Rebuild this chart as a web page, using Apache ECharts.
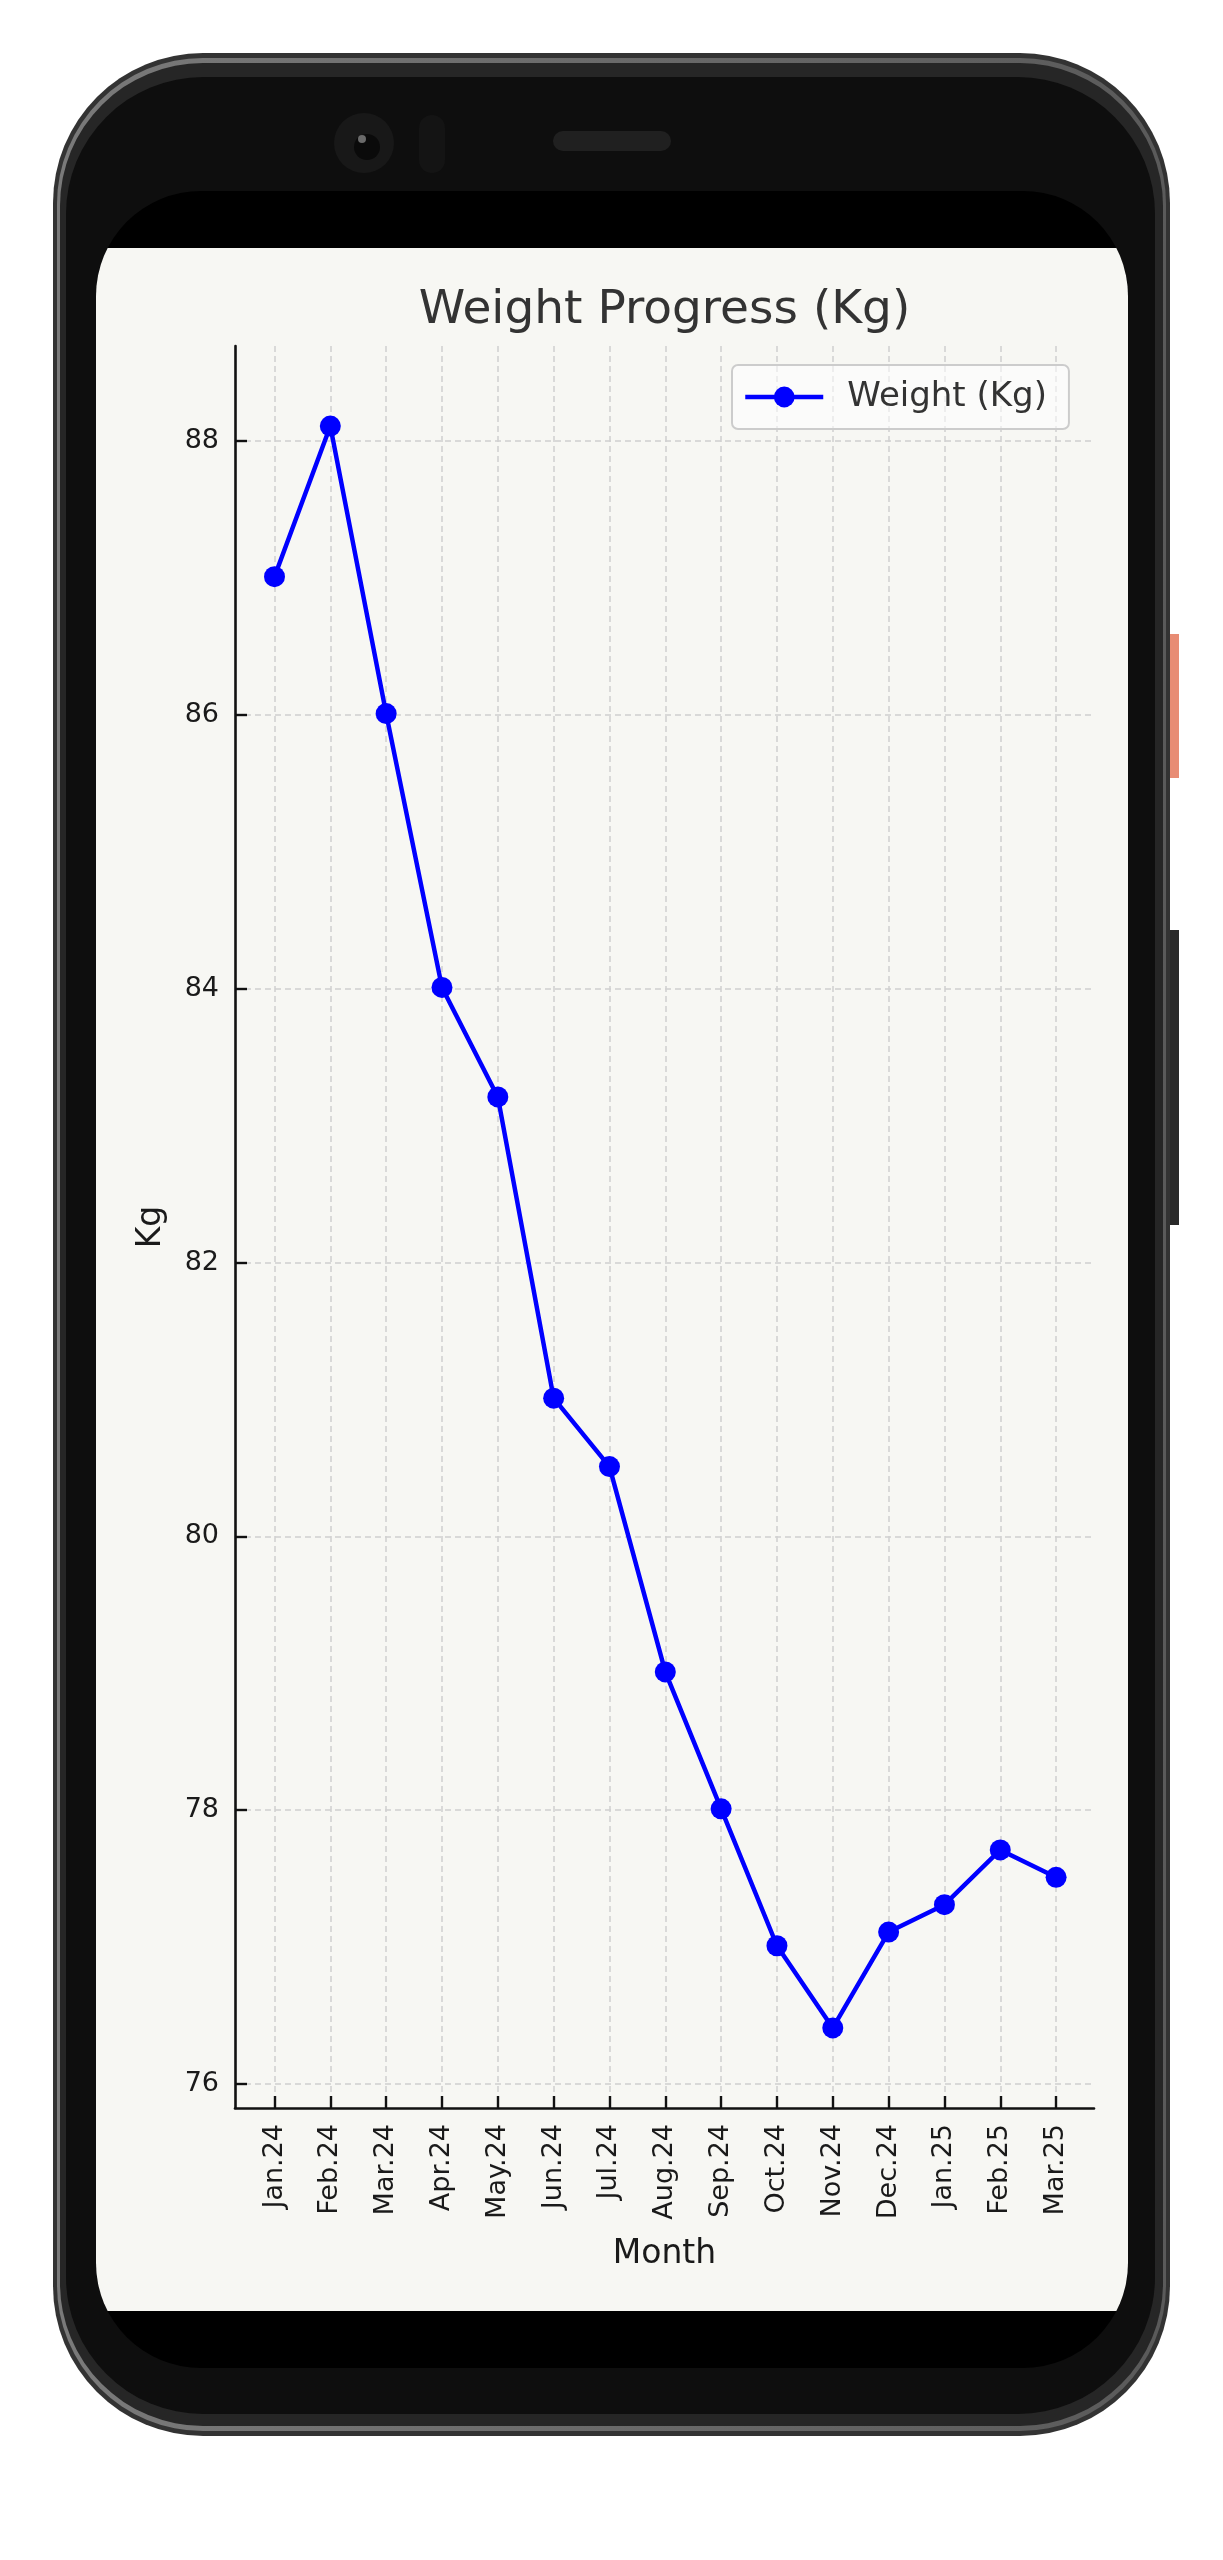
<!doctype html>
<html>
<head>
<meta charset="utf-8" />
<title>Weight Progress</title>
<script src="https://cdn.jsdelivr.net/npm/echarts@6/dist/echarts.min.js"></script>
<style>
  html, body { margin: 0; padding: 0; background: #fff; }
  #page { position: relative; width: 1223px; height: 2560px; overflow: hidden; }
  .abs { position: absolute; }
  #main { position: absolute; left: 0; top: 0; width: 1223px; height: 2560px; z-index: 10; }
</style>
</head>
<body>
<div id="page">
  <!-- side buttons -->
  <div class="abs" style="left:1160px;top:634px;width:19px;height:144px;background:#e88c74;"></div>
  <div class="abs" style="left:1160px;top:930px;width:19px;height:295px;background:#2a2a2a;"></div>
  <!-- phone body -->
  <div class="abs" style="left:53px;top:53px;width:1117px;height:2383px;border-radius:150px;background:#333;"></div>
  <div class="abs" style="left:57px;top:58px;width:1109px;height:2373px;border-radius:146px;background:linear-gradient(90deg,#7a7a7a,#5a5a5a);"></div>
  <div class="abs" style="left:60px;top:63px;width:1103px;height:2363px;border-radius:143px;background:#262626;"></div>
  <div class="abs" style="left:66px;top:77px;width:1089px;height:2337px;border-radius:137px;background:#0e0e0e;"></div>
  <!-- camera, sensor, speaker -->
  <div class="abs" style="left:334px;top:113px;width:60px;height:60px;border-radius:30px;background:#181818;"></div>
  <div class="abs" style="left:354px;top:134px;width:26px;height:26px;border-radius:13px;background:#0a0a0a;"></div>
  <div class="abs" style="left:358px;top:135px;width:8px;height:8px;border-radius:4px;background:#6a6a6a;"></div>
  <div class="abs" style="left:419px;top:115px;width:26px;height:58px;border-radius:13px;background:#141414;"></div>
  <div class="abs" style="left:553px;top:131px;width:118px;height:20px;border-radius:10px;background:#202020;"></div>
  <!-- screen -->
  <div class="abs" style="left:96px;top:191px;width:1032px;height:2177px;border-radius:105px;background:#000;overflow:hidden;">
    <div class="abs" style="left:0;top:57px;width:1032px;height:2063px;background:#f7f7f3;"></div>
  </div>
  <div id="main"></div>
</div>
<script>
// data
var months = ['Jan.24', 'Feb.24', 'Mar.24', 'Apr.24', 'May.24', 'Jun.24', 'Jul.24', 'Aug.24',
              'Sep.24', 'Oct.24', 'Nov.24', 'Dec.24', 'Jan.25', 'Feb.25', 'Mar.25'];
var weight = [87.0, 88.1, 86.0, 84.0, 83.2, 81.0, 80.5, 79.0, 78.0, 77.0, 76.4, 77.1, 77.3, 77.7, 77.5];
var yTicks = [76, 78, 80, 82, 84, 86, 88];

var FONT = 'DejaVu Sans';
var INK = '#1a1a1a';
var gridColor = '#d0d0d0';

// axes range like matplotlib (5% margins)
var lo = Math.min.apply(null, weight), hi = Math.max.apply(null, weight);
var pad = (hi - lo) * 0.05;

var myChart = echarts.init(document.getElementById('main'), null, {renderer: 'canvas'});

option = {
  animation: false,
  backgroundColor: 'transparent',
  textStyle: { fontFamily: FONT },
  title: {
    text: 'Weight Progress (Kg)',
    left: 664.5,
    top: 287,
    textAlign: 'center',
    padding: 0,
    textStyle: { fontFamily: FONT, fontSize: 47, fontWeight: 'normal', color: '#333' }
  },
  legend: {
    data: ['Weight (Kg)'],
    left: 732,
    top: 365,
    orient: 'horizontal',
    padding: [15, 22, 15, 11],
    itemWidth: 78,
    itemHeight: 26,
    backgroundColor: 'rgba(255,255,255,0.55)',
    borderColor: '#cccccc',
    borderWidth: 2,
    borderRadius: 6,
    lineStyle: { width: 4.5 },
    textStyle: { fontFamily: FONT, fontSize: 34, color: '#333', padding: [0, 0, 0, 19] }
  },
  grid: [
    // frame (spines)
    { left: 235, top: 346, width: 859, height: 1762, containLabel: false },
    // data area
    { left: 274.5, top: 346, width: 781.6, height: 1762, containLabel: false },
    // y ticks
    { left: 235, top: 441, width: 859, height: 1643, containLabel: false }
  ],
  xAxis: [
    {
      gridIndex: 0, type: 'value', min: 0, max: 1,
      name: 'Month', nameLocation: 'middle', nameGap: 130,
      nameTextStyle: { fontFamily: FONT, fontSize: 33, color: INK },
      axisLine: { show: true, lineStyle: { color: '#111', width: 2.6 } },
      axisTick: { show: false }, axisLabel: { show: false }, splitLine: { show: false }
    },
    {
      gridIndex: 1, type: 'category', data: months, boundaryGap: false,
      axisLine: { show: false },
      axisTick: { show: true, inside: true, length: 12, lineStyle: { color: '#111', width: 2.4 } },
      axisLabel: { interval: 0, rotate: 90, margin: 16, fontFamily: FONT, fontSize: 27, color: INK },
      splitLine: { show: true, lineStyle: { color: gridColor, width: 1.5, type: [6, 4] } }
    },
    { gridIndex: 2, type: 'value', min: 0, max: 1, show: false }
  ],
  yAxis: [
    {
      gridIndex: 0, type: 'value', min: 0, max: 1,
      name: 'Kg', nameLocation: 'middle', nameGap: 67, nameRotate: 90,
      nameTextStyle: { fontFamily: FONT, fontSize: 33, color: INK },
      axisLine: { show: true, lineStyle: { color: '#111', width: 2.6 } },
      axisTick: { show: false }, axisLabel: { show: false }, splitLine: { show: false }
    },
    {
      gridIndex: 1, type: 'value', min: lo - pad, max: hi + pad, show: false,
      splitLine: { show: false }
    },
    {
      gridIndex: 2, type: 'value', min: yTicks[0], max: yTicks[yTicks.length - 1], interval: 2,
      axisLine: { show: false },
      axisTick: { show: true, inside: true, length: 12, lineStyle: { color: '#111', width: 2.4 } },
      axisLabel: { margin: 16, fontFamily: FONT, fontSize: 27, color: INK },
      splitLine: { show: true, lineStyle: { color: gridColor, width: 1.5, type: [6, 4] } }
    }
  ],
  series: [{
    name: 'Weight (Kg)',
    type: 'line',
    xAxisIndex: 1,
    yAxisIndex: 1,
    data: weight,
    symbol: 'circle',
    symbolSize: 21,
    showAllSymbol: true,
    lineStyle: { color: '#0000ff', width: 4.5 },
    itemStyle: { color: '#0000ff' },
    z: 5
  }]
};

myChart.setOption(option);
</script>
</body>
</html>
